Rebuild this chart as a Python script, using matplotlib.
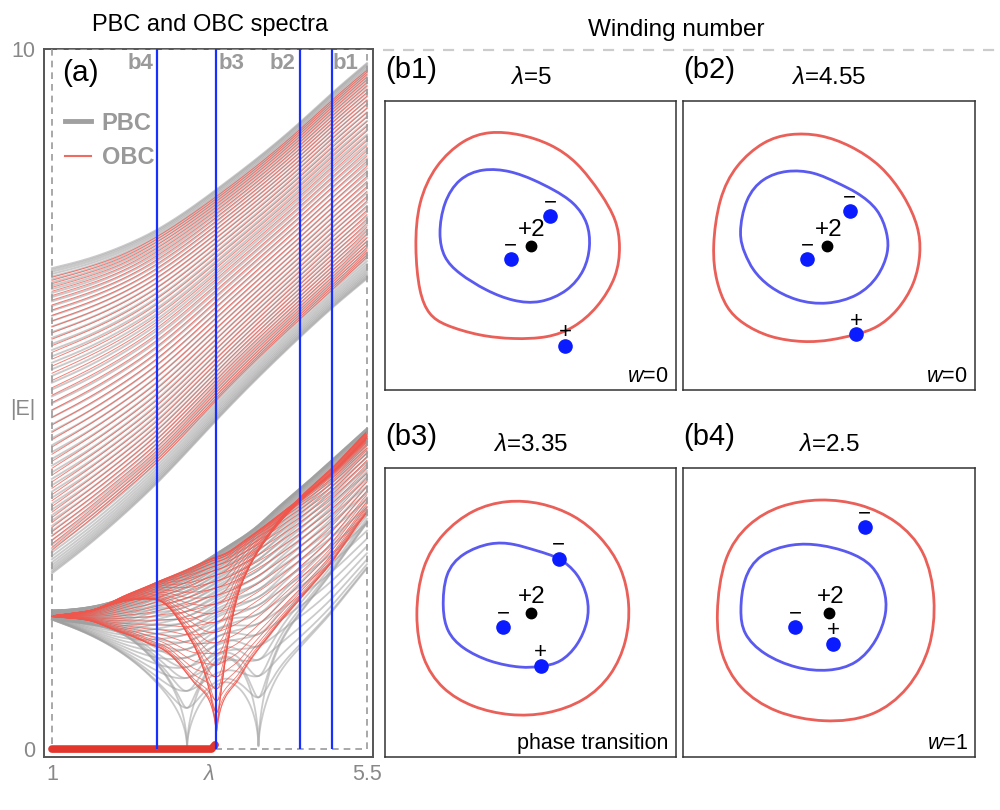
import numpy as np
import matplotlib
matplotlib.use("Agg")
import matplotlib.pyplot as plt
from matplotlib.path import Path
from matplotlib.patches import PathPatch, Rectangle
from matplotlib.lines import Line2D

plt.rcParams['font.family'] = ['Liberation Sans', 'DejaVu Sans']
plt.rcParams['mathtext.fontset'] = 'custom'
plt.rcParams['mathtext.it'] = 'Liberation Sans:italic'
plt.rcParams['mathtext.rm'] = 'Liberation Sans'

# ---------------- panel (a) data ----------------
LAM_MIN, LAM_MAX, E_MAX = 1.0, 5.5, 10.0
cut_lams = [2.5, 3.35, 4.55, 5.0]          # b4, b3, b2, b1
cut_names = ['b4', 'b3', 'b2', 'b1']
cut_label_lam = [2.26, 3.57, 4.30, 5.20]

# upper band edges
lam_up = [1.0, 1.5, 2.0, 2.5, 3.37, 4.55, 5.0, 5.5]
up_top_pbc = [6.87, 7.00, 7.18, 7.42, 8.01, 8.96, 9.37, 9.80]
up_bot_pbc = [2.51, 2.90, 3.33, 3.80, 4.72, 5.89, 6.30, 6.72]
up_top_obc = [6.74, 6.88, 7.06, 7.32, 7.91, 8.86, 9.27, 9.70]
up_bot_obc = [2.84, 3.24, 3.66, 4.10, 5.01, 6.15, 6.56, 7.03]

# lower band, PBC: lowest |E| (sign of real part), highest |E|, branch splitting
lam_lo = [1.0, 1.5, 2.0, 2.5, 2.93, 3.44, 3.95, 4.17, 4.55, 5.0, 5.5]
lo_bot = [1.85, 1.65, 1.37, 0.94, 0.0, 0.95, 0.0, 0.94, 1.46, 1.96, 2.58]
lo_sign = [1, 1, 1, 1, 0, -1, 0, 1, 1, 1, 1]
lo_top = [1.98, 2.02, 2.15, 2.38, 2.55, 2.85, 3.20, 3.40, 3.73, 4.13, 4.58]
lo_split = [0.0, 0.08, 0.18, 0.25, 0.30, 0.30, 0.30, 0.30, 0.28, 0.25, 0.22]

# lower band, OBC: centre, splitting and width of the eigenvalue loop
lam_ob = [1.0, 1.5, 2.0, 2.5, 3.0, 3.35, 3.7, 4.17, 4.55, 4.98, 5.5]
ob_q0 = [-3.60, -3.64, -3.62, -3.35, -1.65, 0.0, 3.30, 6.50, 8.80, 11.5, 16.0]
ob_a = [0.02, 0.25, 0.86, 1.22, 0.69, 0.0, 2.20, 3.60, 4.20, 4.50, 4.60]
ob_b = [0.30, 1.20, 2.95, 4.56, 6.55, 7.56, 8.00, 8.40, 8.80, 9.20, 9.60]
OB_FLOOR = 0.007     # lowest zero-line offset at the transition

# OBC zero modes
zero_lam = [1.0, 3.28, 3.33]
zero_E = [0.0, 0.0, 0.06]

N_PBC_UP, N_OBC_UP, N_PBC_LO, N_OBC_LO = 62, 48, 60, 46

# ---------------- panels (b) data ----------------
b1_red = [(-0.787, -0.008), (-0.76, 0.29), (-0.645, 0.542), (-0.462, 0.713), (-0.278, 0.775),
          (-0.072, 0.759), (0.134, 0.691), (0.317, 0.565), (0.478, 0.359), (0.581, 0.175),
          (0.610, -0.008), (0.581, -0.214), (0.455, -0.42), (0.294, -0.558), (0.111, -0.627),
          (-0.118, -0.638), (-0.347, -0.615), (-0.576, -0.546), (-0.691, -0.466), (-0.76, -0.306)]
b1_blue = [(-0.622, 0.084), (-0.588, 0.29), (-0.485, 0.45), (-0.324, 0.519), (-0.141, 0.507),
           (0.019, 0.45), (0.157, 0.381), (0.294, 0.29), (0.386, 0.153), (0.404, -0.008),
           (0.363, -0.168), (0.249, -0.306), (0.065, -0.386), (-0.118, -0.375), (-0.301, -0.306),
           (-0.485, -0.191), (-0.588, -0.077)]
b1_zeros = [(0.134, 0.203, '\u2212'), (-0.136, -0.093, '\u2212'), (0.239, -0.691, '+')]
b1_pole = (0.0, 0.0)

b2_red = [(-0.793, -0.007), (-0.747, 0.314), (-0.632, 0.543), (-0.449, 0.704), (-0.266, 0.761),
          (-0.060, 0.754), (0.146, 0.680), (0.353, 0.543), (0.513, 0.337), (0.605, 0.131),
          (0.623, -0.052), (0.581, -0.258), (0.467, -0.442), (0.330, -0.557), (0.188, -0.609),
          (0.009, -0.648), (-0.175, -0.660), (-0.404, -0.625), (-0.587, -0.533), (-0.701, -0.419),
          (-0.770, -0.236)]
b2_blue = [(-0.610, 0.085), (-0.564, 0.314), (-0.449, 0.452), (-0.289, 0.509), (-0.106, 0.498),
           (0.055, 0.429), (0.192, 0.360), (0.330, 0.245), (0.394, 0.085), (0.399, -0.052),
           (0.330, -0.213), (0.192, -0.339), (-0.014, -0.396), (-0.220, -0.373), (-0.404, -0.282),
           (-0.518, -0.167), (-0.575, -0.052)]
b2_zeros = [(0.142, 0.239, '\u2212'), (-0.151, -0.091, '\u2212'), (0.188, -0.609, '+')]
b2_pole = (-0.014, 0.0)

b3_red = [(-0.781, -0.014), (-0.735, 0.307), (-0.598, 0.536), (-0.392, 0.697), (-0.162, 0.761),
          (0.067, 0.747), (0.296, 0.662), (0.479, 0.513), (0.617, 0.307), (0.674, 0.055),
          (0.651, -0.197), (0.548, -0.426), (0.364, -0.598), (0.113, -0.689), (-0.140, -0.701),
          (-0.392, -0.643), (-0.598, -0.518), (-0.735, -0.311)]
b3_blue = [(-0.598, 0.032), (-0.575, 0.261), (-0.460, 0.399), (-0.277, 0.472), (-0.117, 0.468),
           (0.044, 0.422), (0.193, 0.371), (0.319, 0.261), (0.388, 0.101), (0.388, -0.059),
           (0.319, -0.220), (0.204, -0.334), (0.071, -0.368), (-0.071, -0.375), (-0.277, -0.334),
           (-0.460, -0.243), (-0.564, -0.128)]
b3_zeros = [(0.193, 0.371, '\u2212'), (-0.186, -0.100, '\u2212'), (0.071, -0.368, '+')]
b3_pole = (0.0, 0.0)

b4_red = [(-0.766, -0.005), (-0.712, 0.367), (-0.549, 0.599), (-0.331, 0.727), (-0.06, 0.773),
          (0.212, 0.738), (0.456, 0.622), (0.647, 0.413), (0.720, 0.088), (0.687, -0.237),
          (0.538, -0.515), (0.293, -0.701), (-0.033, -0.743), (-0.359, -0.678), (-0.603, -0.515),
          (-0.733, -0.283)]
b4_blue = [(-0.603, 0.019), (-0.576, 0.228), (-0.467, 0.390), (-0.250, 0.464), (-0.060, 0.460),
           (0.130, 0.413), (0.293, 0.320), (0.375, 0.158), (0.388, -0.005), (0.320, -0.190),
           (0.185, -0.341), (-0.005, -0.395), (-0.223, -0.376), (-0.440, -0.283), (-0.576, -0.144)]
b4_zeros = [(0.245, 0.588, '\u2212'), (-0.231, -0.102, '\u2212'), (0.027, -0.214, '+')]
b4_pole = (0.0, 0.0)

panel_tags = ['(b1)', '(b2)', '(b3)', '(b4)']
panel_lams = ['5', '4.55', '3.35', '2.5']
panel_notes = [r'$w$=0', r'$w$=0', 'phase transition', r'$w$=1']

# ---------------- helpers ----------------
def pchip(xp, yp, x):
    xp = np.asarray(xp, float); yp = np.asarray(yp, float)
    h = np.diff(xp); d = np.diff(yp) / h
    n = len(xp); m = np.zeros(n)
    for k in range(1, n - 1):
        if d[k - 1] * d[k] > 0:
            w1 = 2 * h[k] + h[k - 1]; w2 = h[k] + 2 * h[k - 1]
            m[k] = (w1 + w2) / (w1 / d[k - 1] + w2 / d[k])
    m[0] = d[0]; m[-1] = d[-1]
    idx = np.clip(np.searchsorted(xp, x) - 1, 0, n - 2)
    t = (x - xp[idx]) / h[idx]
    h00 = 2 * t**3 - 3 * t**2 + 1; h10 = t**3 - 2 * t**2 + t
    h01 = -2 * t**3 + 3 * t**2; h11 = t**3 - t**2
    return h00 * yp[idx] + h10 * h[idx] * m[idx] + h01 * yp[idx + 1] + h11 * h[idx] * m[idx + 1]


def cspline(xp, yp, x):
    xp = np.asarray(xp, float); yp = np.asarray(yp, float)
    n = len(xp); h = np.diff(xp)
    A = np.zeros((n, n)); r = np.zeros(n)
    A[0, 0] = A[-1, -1] = 1.0
    for i in range(1, n - 1):
        A[i, i - 1] = h[i - 1]; A[i, i] = 2 * (h[i - 1] + h[i]); A[i, i + 1] = h[i]
        r[i] = 6 * ((yp[i + 1] - yp[i]) / h[i] - (yp[i] - yp[i - 1]) / h[i - 1])
    M = np.linalg.solve(A, r)
    idx = np.clip(np.searchsorted(xp, x) - 1, 0, n - 2)
    hi = h[idx]; xl = xp[idx]; xr = xp[idx + 1]
    return (M[idx] * (xr - x) ** 3 / (6 * hi) + M[idx + 1] * (x - xl) ** 3 / (6 * hi)
            + (yp[idx] / hi - M[idx] * hi / 6) * (xr - x)
            + (yp[idx + 1] / hi - M[idx + 1] * hi / 6) * (x - xl))


def closed_curve(ax, pts, color):
    P = np.asarray(pts, float); n = len(P)
    D = np.roll(P, 1, 0) - 2 * P + np.roll(P, -1, 0)
    Q = P - D / 6.0
    verts = []; codes = []
    for i in range(n):
        q0, q1, q2, q3 = Q[i - 1], Q[i], Q[(i + 1) % n], Q[(i + 2) % n]
        if i == 0:
            verts.append((q0 + 4 * q1 + q2) / 6); codes.append(Path.MOVETO)
        verts += [(2 * q1 + q2) / 3, (q1 + 2 * q2) / 3, (q1 + 4 * q2 + q3) / 6]
        codes += [Path.CURVE4] * 3
    ax.add_patch(PathPatch(Path(verts, codes), fill=False, ec=color, lw=2.0, zorder=2))


GRAY = '#a0a0a0'
RED_L = '#f2564c'
BLUE_V = '#1830ff'

fig = plt.figure(figsize=(10, 8.1), dpi=100)

# ---------------- panel (a) ----------------
ax = fig.add_axes([0.044, 0.0654, 0.329, 0.874])
ax.set_xlim(0.886, 5.586)
ax.set_ylim(-0.114, 10.0)

lam = np.linspace(LAM_MIN, LAM_MAX, 1400)

# upper band PBC
tp = cspline(lam_up, up_top_pbc, lam); bp = cspline(lam_up, up_bot_pbc, lam)
tt = np.linspace(0, 1, N_PBC_UP)
for u in 0.3 * tt + 0.35 * (1 - np.cos(np.pi * tt)):
    ax.plot(lam, bp + (tp - bp) * u, color=GRAY, lw=1.4, alpha=0.55, zorder=2)

# lower band PBC
kap = np.array(lo_split)
R_pts = np.array(lo_sign) * np.array(lo_bot) ** 2 / (1 - kap)
B_pts = np.sqrt(np.maximum(np.array(lo_top) ** 4 - R_pts ** 2, 0))
R = cspline(lam_lo, R_pts, lam); B = cspline(lam_lo, B_pts, lam); K = cspline(lam_lo, kap, lam)
for k in np.linspace(0, np.pi, N_PBC_LO):
    P = R * (1 + K * np.cos(k)) + 1j * B * np.sin(k)
    ax.plot(lam, np.abs(P) ** 0.5, color=GRAY, lw=1.3, alpha=0.55, zorder=2)

# upper band OBC
to = cspline(lam_up, up_top_obc, lam); bo = cspline(lam_up, up_bot_obc, lam)
tr = np.linspace(0, 1, N_OBC_UP)
for u in 0.5 * tr + 0.25 * (1 - np.cos(np.pi * tr)):
    ax.plot(lam, bo + (to - bo) * u, color=RED_L, lw=0.7, alpha=0.75, zorder=3)

# lower band OBC
q0 = pchip(lam_ob, ob_q0, lam); qa = pchip(lam_ob, ob_a, lam); qb = pchip(lam_ob, ob_b, lam)
for n in range(N_OBC_LO):
    th = np.pi * (n + 0.5) / N_OBC_LO
    s = OB_FLOOR + (1 - OB_FLOOR) * np.sin(th) ** 2
    ax.plot(lam, np.abs(q0 + qa * np.cos(th) + 1j * qb * s) ** 0.5,
            color=RED_L, lw=0.6, alpha=0.8, zorder=3)

# zero modes
ax.plot(zero_lam, zero_E, color='#e2352c', lw=5.5, solid_capstyle='round', zorder=5)

# dashed data range box
ax.add_patch(Rectangle((LAM_MIN, 0), LAM_MAX - LAM_MIN, E_MAX, fill=False, ec='#9a9a9a',
                       lw=1.2, ls=(0, (4, 3)), zorder=4))

# cut lines
ax.vlines(cut_lams, 0, E_MAX, color=BLUE_V, lw=1.6, zorder=6)
for nm, xl in zip(cut_names, cut_label_lam):
    ax.text(xl, 9.80, nm, color='#9a9a9a', fontsize=16, fontweight='bold',
            ha='center', va='center', zorder=7)

ax.text(1.4, 9.66, '(a)', fontsize=21.5, ha='center', va='center', zorder=7)

handles = [Line2D([], [], color='#a0a0a0', lw=3.5), Line2D([], [], color='#f06a60', lw=1.5)]
leg = ax.legend(handles, ['PBC', 'OBC'], loc='upper left', bbox_to_anchor=(0.035, 0.925),
                frameon=False, handlelength=1.1, handletextpad=0.45, labelspacing=0.5,
                borderaxespad=0, prop={'weight': 'bold', 'size': 17}, labelcolor='#999999')

ax.set_xticks([1.0, 3.24, 5.5])
ax.set_xticklabels(['1', r'$\lambda$', '5.5'])
ax.set_yticks([0, 4.89, 10])
ax.set_yticklabels(['0', '|E|', '10'])
ax.tick_params(length=0, labelsize=15.5, labelcolor='#888888', pad=6)
ax.tick_params(axis='x', pad=5)
for s in ax.spines.values():
    s.set_color('#555555'); s.set_linewidth(1.4)

fig.text(0.210, 1 - 25 / 810, 'PBC and OBC spectra', fontsize=17, ha='center', va='center')
fig.text(0.676, 1 - 30 / 810, 'Winding number', fontsize=17.5, ha='center', va='center')
fig.add_artist(Line2D([0.383, 0.998], [1 - 50 / 810, 1 - 50 / 810], transform=fig.transFigure,
                      color='#cccccc', lw=1.6, ls=(0, (5, 4))))

# ---------------- panels (b) ----------------
boxes = [(385, 101, 291, 289), (683, 101, 292, 289), (385, 468, 291, 289), (683, 468, 292, 289)]
reds = [b1_red, b2_red, b3_red, b4_red]
blues = [b1_blue, b2_blue, b3_blue, b4_blue]
zeros = [b1_zeros, b2_zeros, b3_zeros, b4_zeros]
poles = [b1_pole, b2_pole, b3_pole, b4_pole]

for i, (x0, y0, w, h) in enumerate(boxes):
    bx = fig.add_axes([x0 / 1000, 1 - (y0 + h) / 810, w / 1000, h / 810])
    hx = w / 2 / 145.5; hy = h / 2 / 145.5
    bx.set_xlim(-hx, hx); bx.set_ylim(-hy, hy)
    bx.set_xticks([]); bx.set_yticks([])
    for s in bx.spines.values():
        s.set_color('#333333'); s.set_linewidth(1.1)
    closed_curve(bx, reds[i], '#ea5f58')
    closed_curve(bx, blues[i], '#5a5af0')
    px, py = poles[i]
    bx.plot([px], [py], 'o', color='black', ms=7.5, zorder=4)
    bx.text(px + 0.01, py + 0.105, '+2', fontsize=17.5, ha='center', va='center', zorder=5)
    for zx, zy, sg in zeros[i]:
        bx.plot([zx], [zy], 'o', color='#0a1cff', ms=9.5, zorder=4)
        bx.text(zx, zy + 0.09, sg, fontsize=16, ha='center', va='center', zorder=5)
    bx.text(hx - 0.05, -hy + 0.09, panel_notes[i], fontsize=15.5, ha='right', va='center')
    fig.text(x0 / 1000, 1 - (y0 - 31) / 810, panel_tags[i], fontsize=21, ha='left', va='center')
    fig.text((x0 + w / 2) / 1000, 1 - (y0 - 23) / 810, r'$\lambda$=' + panel_lams[i],
             fontsize=17.5, ha='center', va='center')

fig.savefig('out.png', dpi=100)
